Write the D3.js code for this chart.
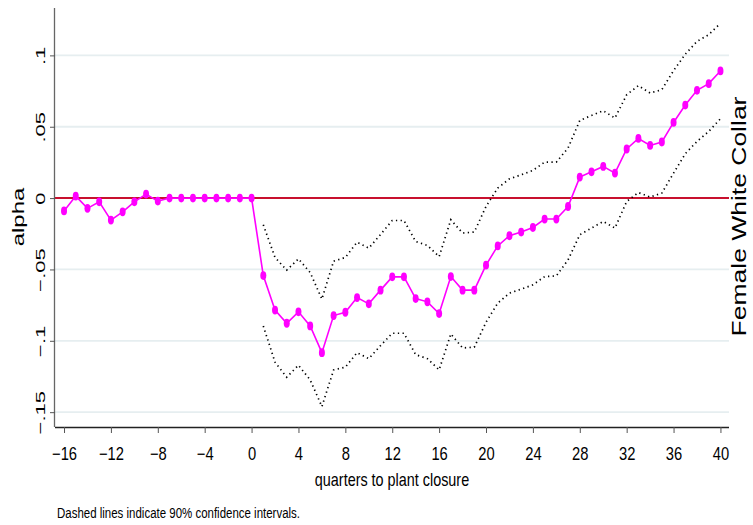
<!DOCTYPE html>
<html>
<head>
<meta charset="utf-8">
<script src="https://cdn.jsdelivr.net/npm/d3@7"></script>
<style>
  html, body { margin: 0; padding: 0; background: #fff; }
  svg { display: block; font-family: "Liberation Sans", Arial, sans-serif; }
</style>
</head>
<body>
<svg id="chart" width="753" height="525"></svg>
<script>
// ---- data ----
const quarters = [-16,-15,-14,-13,-12,-11,-10,-9,-8,-7,-6,-5,-4,-3,-2,-1,0,
  1,2,3,4,5,6,7,8,9,10,11,12,13,14,15,16,17,18,19,20,
  21,22,23,24,25,26,27,28,29,30,31,32,33,34,35,36,37,38,39,40];

const alpha = [-0.0090,0.0014,-0.0072,-0.0026,-0.0154,-0.0096,-0.0026,0.0028,-0.0021,
  0,0,0,0,0,0,0,0,
  -0.0543,-0.0785,-0.0877,-0.0797,-0.0896,-0.1083,-0.0823,-0.0800,-0.0697,-0.0741,
  -0.0645,-0.0552,-0.0552,-0.0704,-0.0727,-0.0809,-0.0550,-0.0645,-0.0645,-0.0470,
  -0.0335,-0.0264,-0.0238,-0.0206,-0.0147,-0.0147,-0.0059,0.0147,0.0184,0.0222,
  0.0175,0.0344,0.0418,0.0369,0.0393,0.0530,0.0652,0.0755,0.0802,0.0891];

const ciQuarters = [1,2,3,4,5,6,7,8,9,10,11,12,13,14,15,16,17,18,19,20,
  21,22,23,24,25,26,27,28,29,30,31,32,33,34,35,36,37,38,39,40];

const ciUpper = [-0.0187,-0.0416,-0.0505,-0.0426,-0.0522,-0.0708,-0.0442,-0.0416,-0.0309,-0.0351,
  -0.0255,-0.0157,-0.0157,-0.0304,-0.0332,-0.0410,-0.0152,-0.0245,-0.0238,-0.0059,
  0.0070,0.0135,0.0163,0.0194,0.0252,0.0252,0.0351,0.0544,0.0579,0.0612,
  0.0561,0.0724,0.0788,0.0736,0.0760,0.0893,0.1008,0.1098,0.1145,0.1225];

const ciLower = [-0.0896,-0.1150,-0.1255,-0.1171,-0.1274,-0.1461,-0.1204,-0.1185,-0.1083,-0.1125,
  -0.1034,-0.0947,-0.0947,-0.1097,-0.1125,-0.1204,-0.0952,-0.1050,-0.1045,-0.0870,
  -0.0736,-0.0666,-0.0638,-0.0608,-0.0550,-0.0545,-0.0433,-0.0257,-0.0210,-0.0164,
  -0.0210,-0.0024,0.0039,0.0007,0.0035,0.0175,0.0311,0.0397,0.0467,0.0556];

const xTicks = [-16,-12,-8,-4,0,4,8,12,16,20,24,28,32,36,40];
const xTickLabels = ["\u221216","\u221212","\u22128","\u22124","0","4","8","12","16","20","24","28","32","36","40"];
const yTicks = [0.1,0.05,0,-0.05,-0.1,-0.15];
const yTickLabels = [".1",".05","0","\u2212.05","\u2212.1","\u2212.15"];
const gridValues = [0.1,0.05,-0.05,-0.1,-0.15];

const xTitle = "quarters to plant closure";
const yTitle = "alpha";
const sideTitle = "Female White Collar";
const note = "Dashed lines indicate 90% confidence intervals.";

// ---- layout ----
const svg = d3.select("#chart");
const plotL = 55, plotR = 729, plotT = 8, plotB = 427;

const x = d3.scaleLinear().domain([-16.77, 40.73]).range([plotL, plotR]);
const y = d3.scaleLinear().domain([-0.1604, 0.1332]).range([plotB, plotT]);

// gridlines
svg.append("g").selectAll("line").data(gridValues).join("line")
  .attr("x1", plotL).attr("x2", plotR)
  .attr("y1", d => y(d)).attr("y2", d => y(d))
  .attr("stroke", "#e6eef0").attr("stroke-width", 1.8);

// zero reference line
svg.append("line")
  .attr("x1", plotL).attr("x2", plotR)
  .attr("y1", y(0)).attr("y2", y(0))
  .attr("stroke", "#c8102e").attr("stroke-width", 2);

// CI lines
const ciLine = d3.line().x((d, i) => x(ciQuarters[i])).y(d => y(d));
[ciUpper, ciLower].forEach(arr => {
  svg.append("path").datum(arr)
    .attr("d", ciLine)
    .attr("fill", "none")
    .attr("stroke", "#000")
    .attr("stroke-width", 1.7)
    .attr("stroke-dasharray", "1.3,3.4");
});

// main series
const mainLine = d3.line().x((d, i) => x(quarters[i])).y(d => y(d));
svg.append("path").datum(alpha)
  .attr("d", mainLine)
  .attr("fill", "none")
  .attr("stroke", "#ff00ff")
  .attr("stroke-width", 1.6);

svg.append("g").selectAll("ellipse").data(alpha).join("ellipse")
  .attr("cx", (d, i) => x(quarters[i]))
  .attr("cy", d => y(d))
  .attr("rx", 3)
  .attr("ry", 4.4)
  .attr("fill", "#ff00ff");

// x axis
const xAxis = d3.axisBottom(x)
  .tickValues(xTicks)
  .tickFormat((d, i) => xTickLabels[i])
  .tickSize(6)
  .tickSizeOuter(0);
const gx = svg.append("g").attr("transform", `translate(0,${plotB})`).call(xAxis);
gx.select(".domain").attr("stroke", "#222").attr("stroke-width", 1.5)
  .attr("d", `M${plotL},0.5H${plotR}`);
gx.selectAll(".tick line").attr("stroke", "#555").attr("stroke-width", 1);
gx.selectAll(".tick text")
  .attr("y", 0).attr("dy", 0)
  .attr("transform", "translate(0,33) scale(0.82,1)")
  .attr("font-size", 18)
  .attr("font-family", "Liberation Sans, Arial, sans-serif")
  .attr("fill", "#000");

// y axis
const yAxis = d3.axisLeft(y)
  .tickValues(yTicks)
  .tickFormat((d, i) => yTickLabels[i])
  .tickSize(5)
  .tickSizeOuter(0);
const gy = svg.append("g").attr("transform", `translate(${plotL},0)`).call(yAxis);
gy.select(".domain").attr("stroke", "#666").attr("stroke-width", 1.3)
  .attr("d", `M-0.5,${plotT}V${plotB}`);
gy.selectAll(".tick line").attr("stroke", "#555").attr("stroke-width", 1);
gy.selectAll(".tick text")
  .attr("x", 0).attr("y", 0).attr("dy", 0)
  .attr("text-anchor", "middle")
  .attr("transform", "translate(-10,0) scale(0.62,1) rotate(-90)")
  .attr("font-size", 22)
  .attr("font-family", "Liberation Sans, Arial, sans-serif")
  .attr("fill", "#000");

// titles
svg.append("text")
  .attr("transform", `translate(${(plotL + plotR) / 2},486) scale(0.8,1)`)
  .attr("text-anchor", "middle")
  .attr("font-size", 18)
  .text(xTitle);

svg.append("text")
  .attr("transform", "translate(23.5,217) scale(0.72,1) rotate(-90)")
  .attr("text-anchor", "middle")
  .attr("font-size", 24)
  .text(yTitle);

svg.append("text")
  .attr("transform", "translate(746,216.5) scale(0.75,1) rotate(-90)")
  .attr("text-anchor", "middle")
  .attr("font-size", 26.5)
  .text(sideTitle);

svg.append("text")
  .attr("transform", "translate(57,518) scale(0.82,1)")
  .attr("font-size", 14)
  .text(note);
</script>
</body>
</html>
